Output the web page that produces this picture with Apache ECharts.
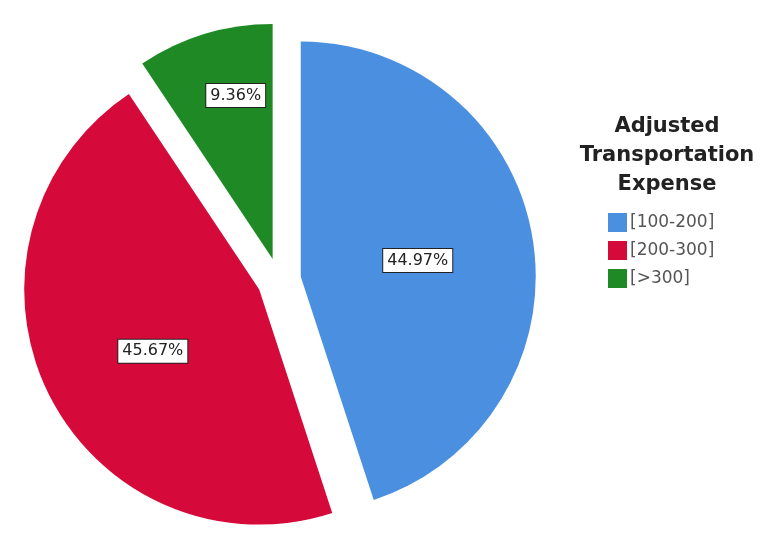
<!DOCTYPE html>
<html>
<head>
<meta charset="utf-8">
<script src="https://cdn.jsdelivr.net/npm/echarts@6/dist/echarts.min.js"></script>
<style>html,body{margin:0;padding:0;background:#fff;}#c{width:768px;height:549px;}</style>
</head>
<body>
<div id="c"></div>
<script>
var categories = ['[100-200]', '[200-300]', '[>300]'];
var percents = [44.97, 45.67, 9.36];
var colors = ['#4a8fe0', '#d5093a', '#1f8a25'];
var labelShifts = [[-2, 3], [2, 9], [-2, -48]];
var legendTitle = 'Adjusted\nTransportation\nExpense';

var data = categories.map(function (c, i) {
  return {
    name: c,
    value: percents[i],
    selected: true,
    itemStyle: { color: colors[i] }
  };
});

var chart = echarts.init(document.getElementById('c'));
chart.setOption({
  animation: false,
  backgroundColor: '#ffffff',
  title: {
    text: legendTitle,
    left: 662,
    top: 107,
    textAlign: 'center',
    textStyle: {
      fontFamily: 'DejaVu Sans',
      fontWeight: 'bold',
      fontSize: 21,
      lineHeight: 29,
      color: '#222222'
    }
  },
  legend: {
    orient: 'vertical',
    left: 603,
    top: 208,
    icon: 'rect',
    itemWidth: 19,
    itemHeight: 19,
    itemGap: 9,
    selectedMode: false,
    data: categories,
    textStyle: {
      fontFamily: 'DejaVu Sans',
      fontSize: 17,
      color: '#555555',
      padding: [0, 0, 0, -2]
    }
  },
  series: [{
    type: 'pie',
    center: [279, 280],
    radius: [0, 235],
    startAngle: 90,
    clockwise: true,
    selectedMode: 'multiple',
    selectedOffset: 22,
    silent: true,
    itemStyle: { borderWidth: 0 },
    label: {
      show: true,
      position: 'inside',
      formatter: function (p) { return p.value.toFixed(2) + '%'; },
      fontFamily: 'DejaVu Sans',
      fontSize: 16,
      color: '#222222',
      backgroundColor: '#ffffff',
      borderColor: '#222222',
      borderWidth: 1,
      padding: [4, 4, 3, 4]
    },
    labelLayout: function (p) {
      var s = labelShifts[p.dataIndex];
      return { dx: s[0], dy: s[1] };
    },
    labelLine: { show: false },
    emphasis: { disabled: true },
    data: data
  }]
});
</script>
</body>
</html>
